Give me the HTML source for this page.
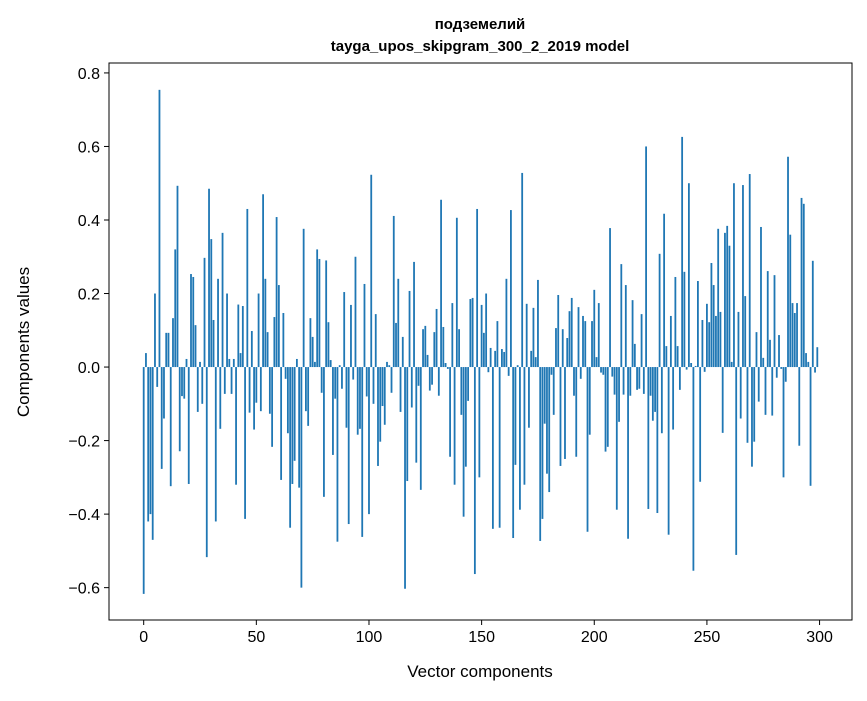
<!DOCTYPE html>
<html><head><meta charset="utf-8"><style>
body{margin:0;background:#fff;}
svg text{font-family:"Liberation Sans","DejaVu Sans",sans-serif;fill:#000;}
</style></head><body>
<svg id="chart" width="867" height="696" viewBox="0 0 867 696" xmlns="http://www.w3.org/2000/svg">
<rect width="867" height="696" fill="#fff"/>
<text x="480" y="29" text-anchor="middle" font-size="15" font-weight="bold">подземелий</text>
<text x="480" y="51" text-anchor="middle" font-size="15" font-weight="bold">tayga_upos_skipgram_300_2_2019 model</text>
<g id="bars"></g>
<g id="xticks"></g>
<g id="yticks"></g>
<rect x="109" y="63" width="743" height="557" fill="none" stroke="#000" stroke-width="1"/>
<text x="480" y="677" text-anchor="middle" font-size="17">Vector components</text>
<text transform="translate(29,342) rotate(-90)" text-anchor="middle" font-size="17">Components values</text>
</svg>
<script>
const values = [
-0.617,0.038,-0.42,-0.40,-0.47,0.20,-0.054,0.754,-0.277,-0.14,
0.093,0.093,-0.324,0.133,0.32,0.493,-0.229,-0.079,-0.086,0.022,
-0.318,0.253,0.245,0.114,-0.122,0.014,-0.10,0.297,-0.517,0.485,
0.348,0.128,-0.42,0.24,-0.168,0.365,-0.073,0.20,0.022,-0.073,
0.022,-0.32,0.17,0.038,0.166,-0.413,0.43,-0.124,0.098,-0.17,
-0.097,0.20,-0.12,0.47,0.24,0.095,-0.127,-0.217,0.136,0.408,
0.223,-0.307,0.147,-0.032,-0.18,-0.437,-0.318,-0.255,0.022,-0.328,
-0.60,0.376,-0.12,-0.16,0.133,0.082,0.014,0.32,0.294,-0.07,
-0.353,0.29,0.122,0.019,-0.239,-0.086,-0.475,0.005,-0.059,0.204,
-0.165,-0.427,0.169,-0.034,0.30,-0.184,-0.168,-0.462,0.226,-0.08,
-0.40,0.523,-0.10,0.144,-0.269,-0.203,-0.106,-0.157,0.014,0.005,
-0.07,0.411,0.12,0.24,-0.122,0.082,-0.603,-0.31,0.207,-0.11,
0.286,-0.26,-0.051,-0.334,0.103,0.112,0.033,-0.064,-0.048,0.095,
0.158,-0.078,0.455,0.109,0.011,-0.005,-0.244,0.174,-0.32,0.406,
0.103,-0.13,-0.407,-0.271,-0.092,0.185,0.188,-0.563,0.43,-0.30,
0.169,0.093,0.20,-0.014,0.052,-0.44,0.044,0.125,-0.437,0.049,
0.041,0.24,-0.024,0.427,-0.465,-0.266,0.005,-0.388,0.528,-0.32,
0.172,-0.165,0.044,0.161,0.027,0.237,-0.473,-0.413,-0.154,-0.29,
-0.34,-0.021,-0.13,0.106,0.196,-0.269,0.103,-0.25,0.079,0.152,
0.188,-0.078,-0.244,0.163,-0.032,0.139,0.125,-0.448,-0.184,0.125,
0.21,0.027,0.174,-0.015,-0.021,-0.23,-0.217,0.378,-0.026,-0.075,
-0.388,-0.149,0.28,-0.075,0.223,-0.467,-0.078,0.182,0.063,-0.062,
-0.059,0.144,-0.073,0.60,-0.386,-0.078,-0.146,-0.122,-0.397,0.308,
-0.18,0.417,0.057,-0.456,0.139,-0.17,0.245,0.057,-0.062,0.626,
0.259,-0.007,0.50,0.011,-0.554,0.003,0.234,-0.312,0.128,-0.013,
0.172,0.122,0.283,0.223,0.139,0.376,0.15,-0.179,0.365,0.384,
0.33,0.014,0.50,-0.511,0.15,-0.14,0.495,0.193,-0.206,0.525,
-0.271,-0.203,0.095,-0.094,0.381,0.025,-0.13,0.261,0.074,-0.132,
0.25,-0.029,0.087,-0.005,-0.30,-0.04,0.572,0.36,0.174,0.147,
0.174,-0.214,0.46,0.444,0.038,0.014,-0.323,0.289,-0.015,0.054
];
const xTicks = [0,50,100,150,200,250,300];
const yTicks = [-0.6,-0.4,-0.2,0,0.2,0.4,0.6,0.8];
const yTickLabels = ["\u22120.6","\u22120.4","\u22120.2","0.0","0.2","0.4","0.6","0.8"];

const NS = "http://www.w3.org/2000/svg";
const L=109,R=852,T=63,B=620;
const xMin=-15.4,xMax=314.4,yMin=-0.688,yMax=0.827;
function xs(v){return L+(v-xMin)/(xMax-xMin)*(R-L);}
function ys(v){return B-(v-yMin)/(yMax-yMin)*(B-T);}
const bw = xs(0.8)-xs(0);
const gb=document.getElementById('bars');
values.forEach((v,i)=>{
  const r=document.createElementNS(NS,'rect');
  
  
  const y0=ys(0), y1=ys(v);
  r.setAttribute('x',xs(i)-bw/2);
  r.setAttribute('y',Math.min(y0,y1));
  r.setAttribute('width',bw);
  r.setAttribute('height',Math.abs(y1-y0));
  r.setAttribute('fill','#1f77b4');
  gb.appendChild(r);
});
const gx=document.getElementById('xticks');
xTicks.forEach(t=>{
  const x=xs(t);
  const l=document.createElementNS(NS,'line');
  
  
  l.setAttribute('x1',x);l.setAttribute('x2',x);l.setAttribute('y1',B);l.setAttribute('y2',B+5);
  l.setAttribute('stroke','#000');
  gx.appendChild(l);
  const tx=document.createElementNS(NS,'text');
  
  
  tx.setAttribute('x',x);tx.setAttribute('y',B+22);
  tx.setAttribute('text-anchor','middle');tx.setAttribute('font-size','16');
  tx.textContent=String(t);
  gx.appendChild(tx);
});
const gy=document.getElementById('yticks');
yTicks.forEach((t,i)=>{
  const y=ys(t);
  const l=document.createElementNS(NS,'line');
  
  
  l.setAttribute('x1',L-5);l.setAttribute('x2',L);l.setAttribute('y1',y);l.setAttribute('y2',y);
  l.setAttribute('stroke','#000');
  gy.appendChild(l);
  const tx=document.createElementNS(NS,'text');
  
  
  tx.setAttribute('x',L-9);tx.setAttribute('y',y+6);
  tx.setAttribute('text-anchor','end');tx.setAttribute('font-size','16');
  tx.textContent=yTickLabels[i];
  gy.appendChild(tx);
});
</script>
</body></html>
